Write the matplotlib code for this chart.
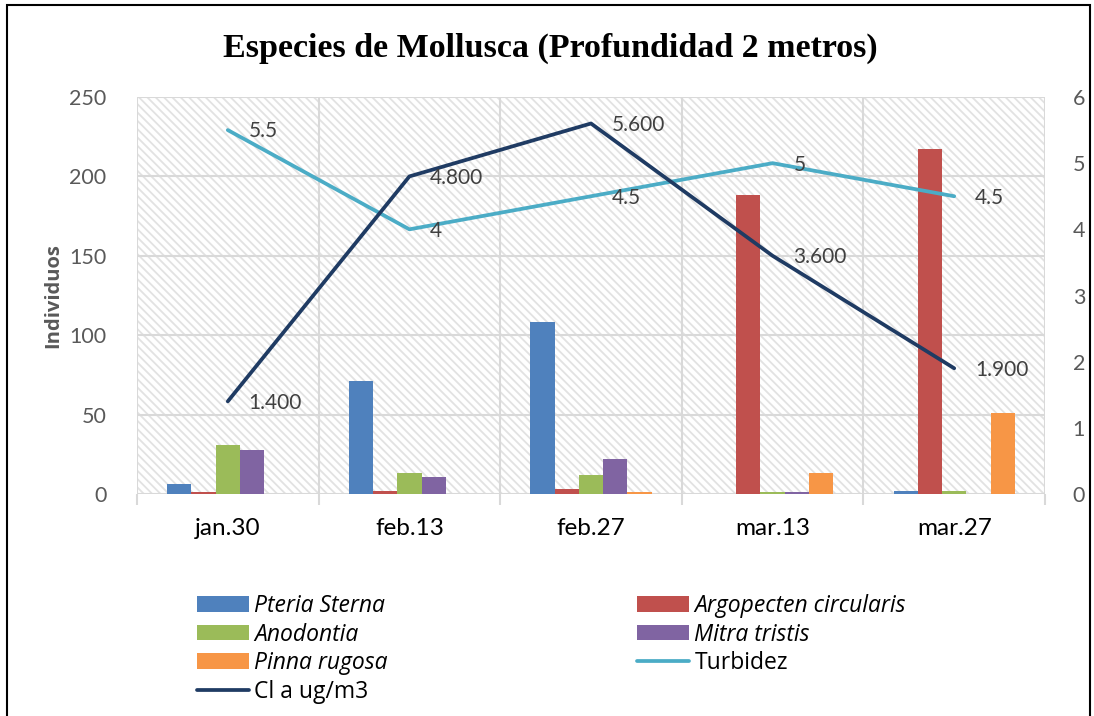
import matplotlib
matplotlib.use("Agg")
import matplotlib.pyplot as plt
import numpy as np
from matplotlib.patches import Rectangle, Patch

categories = ["jan.30", "feb.13", "feb.27", "mar.13", "mar.27"]
pteria = [6, 71, 108, 0, 2]
argopecten = [1, 2, 3, 188, 217]
anodontia = [31, 13, 12, 1, 2]
mitra = [28, 11, 22, 1, 0]
pinna = [0, 0, 1, 13, 51]
turbidez = [5.5, 4, 4.5, 5, 4.5]
turbidez_labels = ["5.5", "4", "4.5", "5", "4.5"]
cla = [1.4, 4.8, 5.6, 3.6, 1.9]
cla_labels = ["1.400", "4.800", "5.600", "3.600", "1.900"]

series_names = ["Pteria Sterna", "Argopecten circularis", "Anodontia", "Mitra tristis", "Pinna rugosa"]
series_vals = [pteria, argopecten, anodontia, mitra, pinna]
series_colors = ["#4f81bd", "#c0504d", "#9bbb59", "#8064a2", "#f79646"]

FONT = ["Lato", "DejaVu Sans"]
LEGFONT = ["Open Sans", "DejaVu Sans"]
plt.rcParams['font.family'] = FONT
plt.rcParams['hatch.linewidth'] = 1.3

fig = plt.figure(figsize=(10.94, 7.16), dpi=100)
ax = fig.add_axes([137/1094, 1-494/716, (1045-137)/1094, (494-97)/716])

x = np.arange(len(categories))
w = 1/7.5

bg = Rectangle((0, 0), 1, 1, transform=ax.transAxes, facecolor="white",
               edgecolor="#e2e2e2", hatch="\\\\\\\\", lw=0, zorder=0)
ax.add_patch(bg)

for j, (name, vals, col) in enumerate(zip(series_names, series_vals, series_colors)):
    ax.bar(x + (j-2)*w, vals, width=w, color=col, zorder=2, label=name)

ax.set_xlim(-0.5, 4.5)
ax.set_ylim(0, 250)
ax.set_yticks(np.arange(0, 251, 50))
ax.set_xticks(x)
ax.set_xticklabels(categories)
ax.set_xticks(np.arange(-0.5, 4.6, 1), minor=True)
ax.tick_params(axis='x', which='major', length=0, pad=17, labelsize=17.5, labelcolor="#000000")
ax.tick_params(axis='x', which='minor', length=8, width=1.5, color="#d9d9d9", direction='out')
ax.tick_params(axis='y', length=0, pad=22, labelsize=15.5, labelcolor="#595959")
ax.grid(True, axis='y', color="#d9d9d9", lw=1.5, zorder=1)
ax.grid(True, axis='x', which='minor', color="#d9d9d9", lw=1.5, zorder=1)
ax.set_axisbelow(True)
for s in ax.spines.values():
    s.set_visible(False)
ax.set_ylabel("Individuos", fontsize=14.5, fontweight='bold', color="#595959", labelpad=4,
              family=LEGFONT)

ax2 = ax.twinx()
ax2.set_ylim(0, 6)
ax2.set_yticks(np.arange(0, 7, 1))
ax2.tick_params(axis='y', length=0, pad=20, labelsize=15.5, labelcolor="#595959")
for s in ax2.spines.values():
    s.set_visible(False)

l1, = ax2.plot(x, turbidez, color="#4bacc6", lw=2.7, solid_capstyle='round', label="Turbidez", zorder=3)
l2, = ax2.plot(x, cla, color="#1f3b63", lw=2.7, solid_capstyle='round', label="Cl a ug/m3", zorder=4)
for xi, yi, t in zip(x, turbidez, turbidez_labels):
    ax2.annotate(t, (xi, yi), xytext=(15, -1), textcoords='offset points',
                 ha='left', va='center', fontsize=15, color="#404040", zorder=5)
for xi, yi, t in zip(x, cla, cla_labels):
    ax2.annotate(t, (xi, yi), xytext=(15, -1), textcoords='offset points',
                 ha='left', va='center', fontsize=15, color="#404040", zorder=5)

fig.text(0.503, 1-48/716, "Especies de Mollusca (Profundidad 2 metros)", ha='center', va='center',
         fontsize=24.5, fontweight='bold', family=["Liberation Serif", "DejaVu Serif"])

ph = {n: Patch(facecolor=c) for n, c in zip(series_names, series_colors)}
handles = [ph["Pteria Sterna"], ph["Anodontia"], ph["Pinna rugosa"], l2,
           ph["Argopecten circularis"], ph["Mitra tristis"], l1]
labels = ["Pteria Sterna", "Anodontia", "Pinna rugosa", "Cl a ug/m3",
          "Argopecten circularis", "Mitra tristis", "Turbidez"]
leg = fig.legend(handles, labels, ncol=2, loc='upper left',
                 bbox_to_anchor=(197/1094, 1-594/716), frameon=False,
                 prop={'family': LEGFONT, 'size': 16.5},
                 handlelength=2.27, handleheight=0.66, handletextpad=0.22,
                 columnspacing=10.9, labelspacing=0.2, borderaxespad=0, borderpad=0)
for t in leg.get_texts():
    if t.get_text() not in ("Turbidez", "Cl a ug/m3"):
        t.set_fontstyle('italic')

fig.add_artist(Rectangle((7/1094, -0.05), (1090-7)/1094, 1.05-5/716, transform=fig.transFigure,
                         fill=False, edgecolor="black", lw=1.5))

fig.savefig("out.png", dpi=100)
